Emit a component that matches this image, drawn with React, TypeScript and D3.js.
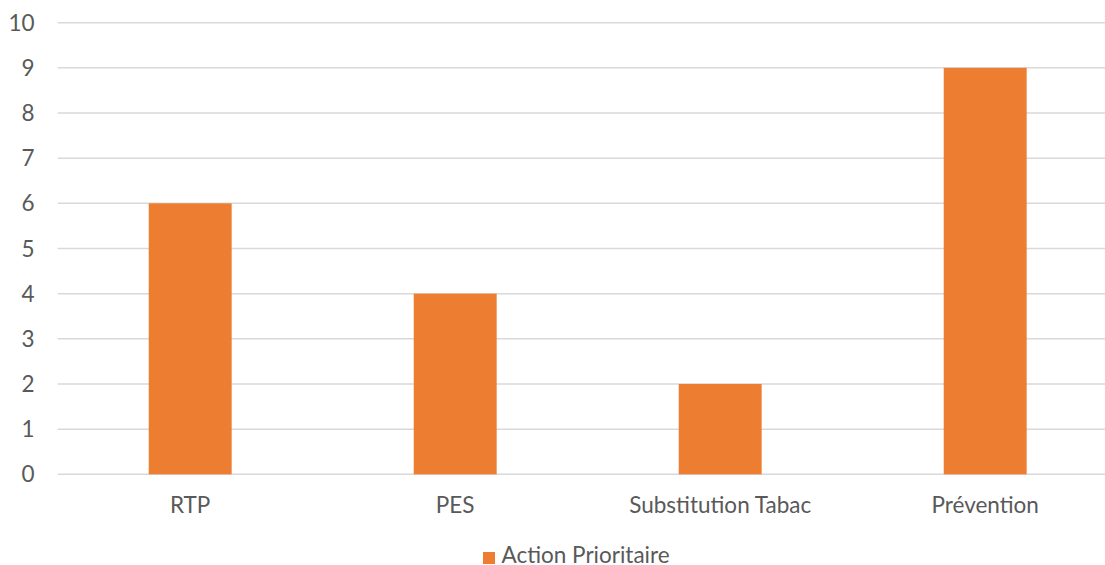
import React from "react";
import * as d3 from "d3";

const categories = ["RTP", "PES", "Substitution Tabac", "Prévention"];
const values = [6, 4, 2, 9];
const yTicks = [0, 1, 2, 3, 4, 5, 6, 7, 8, 9, 10];
const seriesName = "Action Prioritaire";

export default function App() {
  const W = 1105, H = 565;
  const left = 57.7, bandW = 265;
  const x = d3.scaleBand<string>().domain(categories).range([left, left + bandW * categories.length]).paddingInner(0.687).paddingOuter(0.3435);
  const y = d3.scaleLinear().domain([0, 10]).range([474.3, 22.7]);
  const font = "Lato, sans-serif";
  const color = "#595959";
  const fs = 22.5;
  return (
    <svg width={W} height={H} style={{ position: "absolute", left: 0, top: 0, background: "#fff" }}>
      {yTicks.map((t) => (
        <g key={t}>
          <line x1={left} x2={W} y1={y(t)} y2={y(t)} stroke="#d9d9d9" strokeWidth={1.5} />
          <text x={34.5} y={y(t)} dy="0.36em" textAnchor="end" fontFamily={font} fontSize={fs} fill={color}>{t}</text>
        </g>
      ))}
      {categories.map((c, i) => (
        <rect key={c} x={x(c)} width={x.bandwidth()} y={y(values[i])} height={y(0) - y(values[i])} fill="#ed7d31" />
      ))}
      {categories.map((c) => (
        <text key={c} x={(x(c) as number) + x.bandwidth() / 2} y={512.7} textAnchor="middle" fontFamily={font} fontSize={fs} fill={color}>{c}</text>
      ))}
      <rect x={483} y={552} width={12} height={12} fill="#ed7d31" />
      <text x={501.5} y={563} fontFamily={font} fontSize={fs} fill={color}>{seriesName}</text>
    </svg>
  );
}
